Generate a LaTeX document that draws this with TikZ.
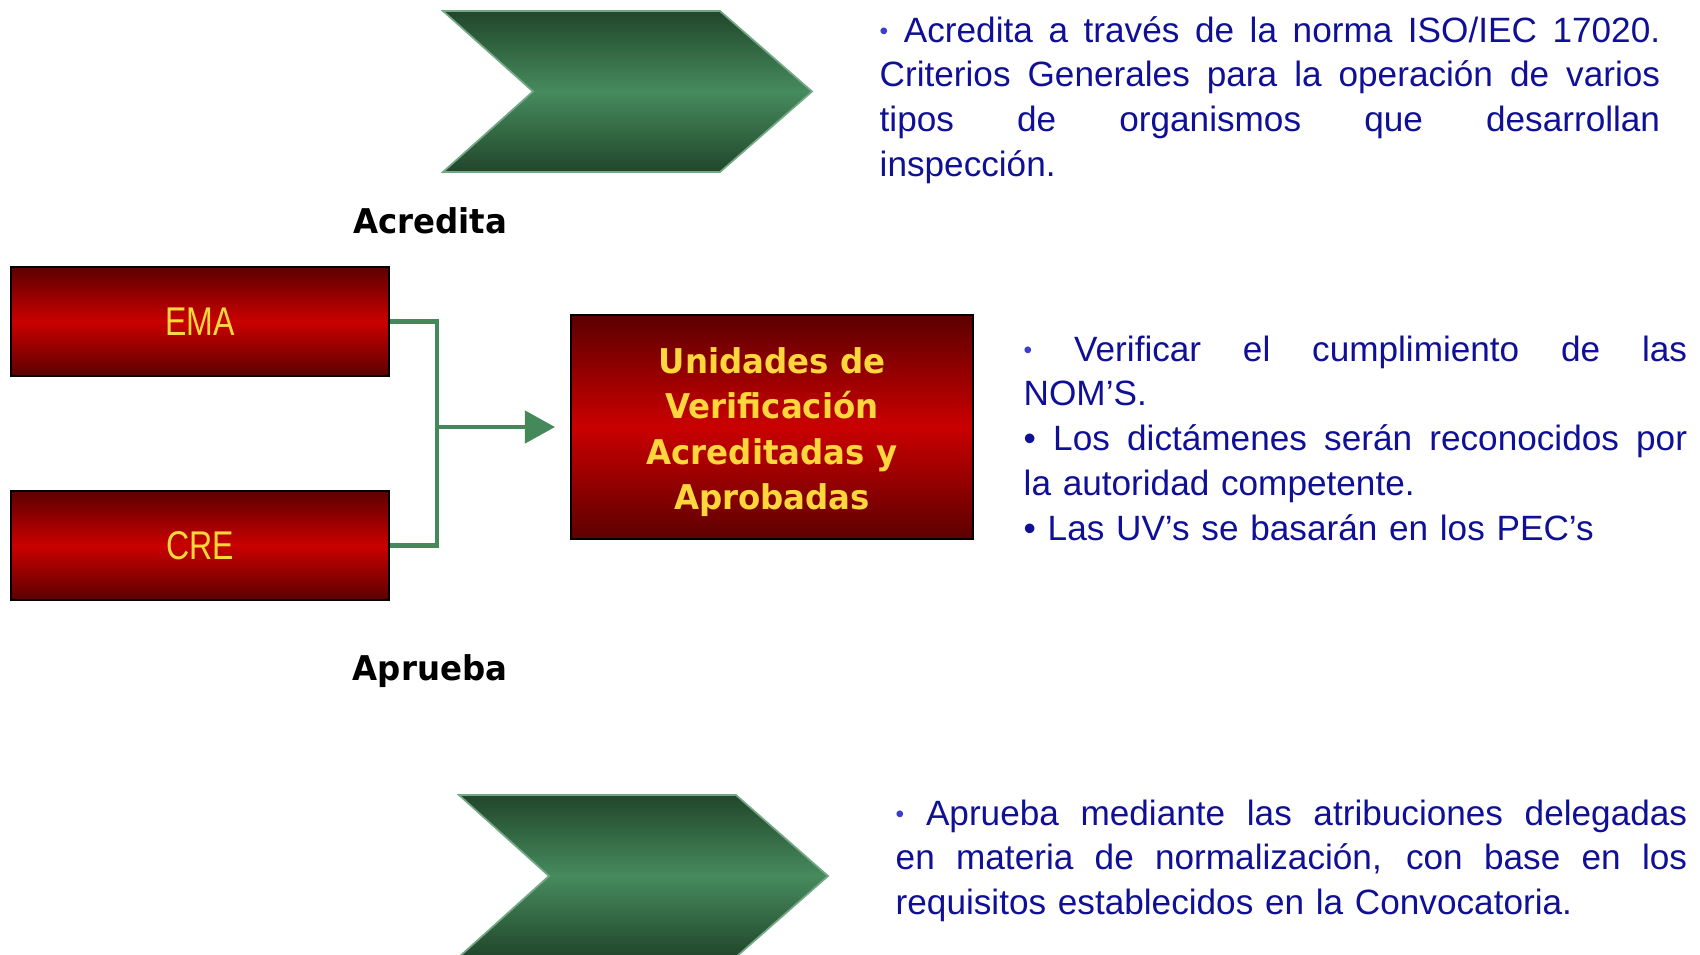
\documentclass[tikz,border=0pt]{standalone}
\usepackage{fontspec}
\setmainfont{Liberation Sans}
\newfontfamily\boxfont{Liberation Sans}[FakeStretch=0.8]
\newfontfamily\labelfont{DejaVu Sans}[FakeStretch=0.95]
\usetikzlibrary{arrows.meta}
\definecolor{reddark}{RGB}{92,0,0}
\definecolor{redmid}{RGB}{202,0,0}
\definecolor{greendark}{RGB}{33,70,43}
\definecolor{greenmid}{RGB}{70,139,93}
\definecolor{linkgreen}{RGB}{69,137,90}
\definecolor{textblue}{RGB}{16,16,150}
\definecolor{dotblue}{RGB}{60,60,205}
\definecolor{gold}{RGB}{255,214,60}
\newcommand\jline[1]{\noindent\hbox to \hsize{\spaceskip=0.278em plus 1fil\relax #1}}
\newcommand\smalldot{{\color{dotblue}\fontsize{7}{7}\selectfont\raisebox{0.6pt}{•}}}
\begin{document}
\begin{tikzpicture}[x=0.01cm, y=-0.01cm,
    redbox/.style={draw=black, line width=0.6pt, top color=reddark, bottom color=reddark,
      middle color=redmid, inner sep=0pt},
    chevron/.style={draw=greenmid!75!white, line width=0.5pt, top color=greendark,
      bottom color=greendark, middle color=greenmid},
    link/.style={draw=linkgreen, line width=0.043cm},
    verb/.style={font=\labelfont\bfseries\fontsize{9.7}{12.8}\selectfont, inner sep=0pt},
    note/.style={font=\fontsize{10}{12.75}\selectfont, text=textblue, align=left, inner sep=0pt}]
    \useasboundingbox (0,0) rectangle (1700,954);
    \shadedraw[chevron] (443,11) -- (720,11) -- (812,91.5) -- (720,172) -- (443,172) -- (533,91.5) -- cycle;
    \shadedraw[chevron] (459,795) -- (736,795) -- (828,876) -- (736,957) -- (459,957) -- (549,876) -- cycle;
    \node[redbox, minimum width=3.78cm, minimum height=1.09cm, text=gold,
      font=\boxfont\fontsize{11.4}{13}\selectfont] (ema) at (200,321.5) {EMA};
    \node[redbox, minimum width=3.78cm, minimum height=1.09cm, text=gold,
      font=\boxfont\fontsize{11.4}{13}\selectfont] (cre) at (200,545.5) {CRE};
    \node[redbox, minimum width=4.02cm, minimum height=2.24cm, text=gold, align=center,
      font=\labelfont\bfseries\fontsize{9.7}{12.9}\selectfont] (uv) at (772,427)
      {\rule{0pt}{10.2pt}Unidades de\\Verificación\\Acreditadas y\\Aprobadas};
    \coordinate (join) at (437,427);
    \coordinate (tip) at (555,427);
    \draw[link] (ema.east) -| (join) |- (cre.east);
    \draw[link, -{Triangle[length=0.30cm, width=0.32cm]}] (join) -- (tip);
    \node[verb, anchor=base] (acredita) at (430,233) {Acredita};
    \node[verb, anchor=base] (aprueba) at (430,680) {Aprueba};
    \node[note, text width=7.80cm, anchor=base west] (acrtext) at (879,42) {%
      \jline{\smalldot{} Acredita a través de la norma ISO/IEC 17020.}\\
      \jline{Criterios Generales para la operación de varios}\\
      \jline{tipos de organismos que desarrollan}\\
      inspección.};
    \node[note, text width=6.63cm, anchor=base west] (uvtext) at (1023,361) {%
      \jline{\smalldot{} Verificar el cumplimiento de las}\\
      NOM'S.\\
      \jline{• Los dictámenes serán reconocidos por}\\
      la autoridad competente.\\
      • Las UV's se basarán en los PEC's};
    \node[note, text width=7.91cm, anchor=base west] (aprtext) at (895,825) {%
      \jline{\smalldot{} Aprueba mediante las atribuciones delegadas}\\
      \jline{en materia de normalización, con base en los}\\
      requisitos establecidos en la Convocatoria.};
\end{tikzpicture}
\end{document}
